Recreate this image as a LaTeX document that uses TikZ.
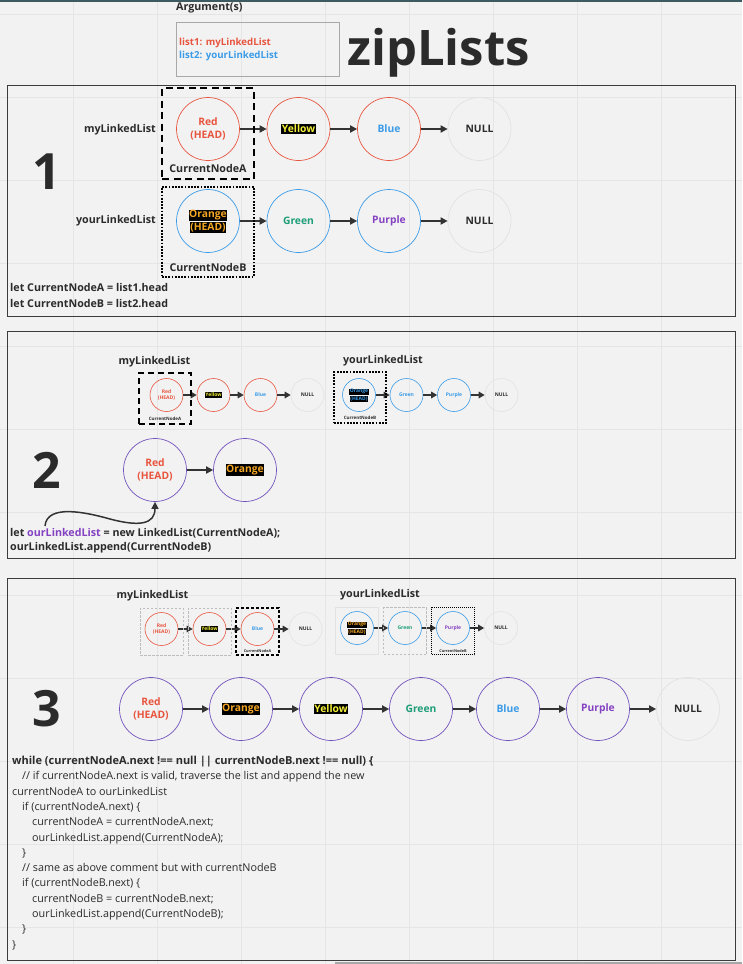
\documentclass[tikz,border=0pt]{standalone}
\usepackage{fontspec}
\setmainfont{Open Sans}
\usetikzlibrary{arrows.meta,positioning}

\definecolor{bgc}{HTML}{F2F2F2}
\definecolor{gridc}{HTML}{E5E5E5}
\definecolor{framec}{HTML}{3C3C3C}
\definecolor{textc}{HTML}{2B2B2B}
\definecolor{arrowc}{HTML}{333333}
\definecolor{boxc}{HTML}{A8A8A8}
\definecolor{nullc}{HTML}{E2E2E2}
\definecolor{lightc}{HTML}{BDBDBD}
\definecolor{redc}{HTML}{E8553F}
\definecolor{bluec}{HTML}{3A9BE8}
\definecolor{greenc}{HTML}{1E9E78}
\definecolor{purplec}{HTML}{8442C2}
\definecolor{violetc}{HTML}{7252BC}
\definecolor{orangec}{HTML}{F5A623}
\definecolor{yellowc}{HTML}{F4F03A}
\definecolor{topc}{HTML}{3D5A60}

\newcommand{\hlbox}[2]{{\setlength{\fboxsep}{0.7pt}\colorbox{black}{\textcolor{#1}{#2}}}}

\begin{document}
\begin{tikzpicture}[x=1pt,y=-1pt,
	bignode/.style={circle,draw,line width=0.7pt,minimum size=63pt,inner sep=0pt,align=center,font=\bfseries\fontsize{10.3}{12.5}\selectfont},
	smallnode/.style={circle,draw,line width=0.6pt,minimum size=33pt,inner sep=0pt,align=center,font=\bfseries\fontsize{5}{6}\selectfont},
	nullnode/.style={draw=nullc,text=textc},
	link/.style={-{Triangle[length=7pt,width=7pt]},line width=1.7pt,draw=arrowc},
	smalllink/.style={-{Triangle[length=6pt,width=6.5pt]},line width=1.7pt,draw=arrowc},
	frame/.style={draw=framec,line width=1pt},
	lbl/.style={font=\bfseries\fontsize{10.7}{12}\selectfont,text=textc,inner sep=0pt},
	tiny/.style={font=\bfseries\fontsize{4.5}{5}\selectfont,text=textc,inner sep=0pt},
	bignum/.style={font=\bfseries\fontsize{50}{50}\selectfont,text=textc,inner sep=0pt},
	curdash/.style={draw=black,line width=2.2pt,dash pattern=on 7pt off 4.5pt},
	curdot/.style={draw=black,line width=2pt,dash pattern=on 1.8pt off 1.4pt},
	ghost/.style={draw=lightc,line width=0.6pt,dash pattern=on 2.5pt off 1.5pt},
	pastbox/.style={draw=nullc,line width=0.8pt},
	thindash/.style={draw=black,line width=1.1pt,dash pattern=on 3pt off 2pt},
	thindot/.style={draw=black,line width=1pt,dash pattern=on 1pt off 1pt}]

\fill[bgc] (0,0) rectangle (742,964);
\useasboundingbox (0,0) rectangle (742,964);
\foreach \x in {73,157,...,661} \draw[gridc,line width=0.8pt] (\x,0) -- (\x,964);
\foreach \y in {14,97,...,927} \draw[gridc,line width=0.8pt] (0,\y) -- (742,\y);
\draw[topc,line width=1.5pt] (0,0.75) -- (742,0.75);
\draw[boxc,line width=2pt] (335,963) -- (742,963);

% header
\node[lbl,anchor=west] (arg) at (176,8) {Argument(s)};
\node[draw=boxc,line width=0.8pt,minimum width=163pt,minimum height=54pt,anchor=north west] (argbox) at (176,22) {};
\node[lbl,font=\bfseries\fontsize{9.7}{11}\selectfont,text=redc,anchor=west] (list1) at (179,43) {list1: myLinkedList};
\node[lbl,font=\bfseries\fontsize{9.7}{11}\selectfont,text=bluec,anchor=west] (list2) at (179,56) {list2: yourLinkedList};
\node[bignum,font=\bfseries\fontsize{49}{49}\selectfont,anchor=base west] (title) at (347,65) {zipLists};

% step 1
\draw[frame] (7,85) rectangle (735,316);
\node[bignum] (one) at (47,172) {1};
\node[lbl,anchor=east] (myA) at (156,130) {myLinkedList};
\node[lbl,anchor=east] (yourA) at (156,221) {yourLinkedList};
\foreach \t/\col [count=\n] in {{Red\\(HEAD)}/redc,{\hlbox{yellowc}{Yellow}}/black,Blue/bluec}
	\node[bignode,draw=redc,text=\col] (A\n) at (117.5+90.5*\n,129) {\t};
\node[bignode,nullnode] (A4) at (479.5,129) {NULL};
\foreach \t/\col [count=\n] in {{\hlbox{orangec}{Orange}\\\hlbox{orangec}{(HEAD)}}/black,Green/greenc,Purple/purplec}
	\node[bignode,draw=bluec,text=\col] (B\n) at (117.5+90.5*\n,221) {\t};
\node[bignode,nullnode] (B4) at (479.5,221) {NULL};
\foreach \i [count=\j from 2] in {1,2,3} {
	\draw[link] (A\i) -- (A\j);
	\draw[link] (B\i) -- (B\j);
}
\node[curdash,minimum width=92pt,minimum height=91pt] (curA) at (208,133.5) {};
\node[lbl] (nameA) at (208,168) {CurrentNodeA};
\node[curdot,minimum width=92pt,minimum height=90pt] (curB) at (208,232) {};
\node[lbl] (nameB) at (208,267) {CurrentNodeB};
\node[lbl,anchor=west] (letA) at (10,288) {let CurrentNodeA = list1.head};
\node[lbl,anchor=west] (letB) at (10,304) {let CurrentNodeB = list2.head};

% step 2
\draw[frame] (7,331) rectangle (735,558);
\node[bignum] (two) at (47,470) {2};
\node[lbl] (myB) at (154.5,362) {myLinkedList};
\node[lbl] (yourB) at (383,361) {yourLinkedList};
\foreach \t/\col [count=\n] in {{Red\\(HEAD)}/redc,{\hlbox{yellowc}{Yellow}}/black,Blue/bluec}
	\node[smallnode,draw=redc,text=\col] (C\n) at (119.5+47*\n,395) {\t};
\node[smallnode,nullnode] (C4) at (307.5,395) {NULL};
\foreach \t [count=\n] in {{\hlbox{bluec}{Orange}\\\hlbox{bluec}{(HEAD)}},Green,Purple}
	\node[smallnode,draw=bluec,text=bluec] (D\n) at (311.5+47.5*\n,395) {\t};
\node[smallnode,nullnode] (D4) at (501.5,395) {NULL};
\foreach \i [count=\j from 2] in {1,2,3} {
	\draw[smalllink] (C\i) -- (C\j);
	\draw[smalllink] (D\i) -- (D\j);
}
\node[curdash,line width=2pt,dash pattern=on 6pt off 4pt,minimum width=52pt,minimum height=51pt] (curC) at (165,398.5) {};
\node[tiny] (nameC) at (165,419) {CurrentNodeA};
\node[curdot,minimum width=52pt,minimum height=51pt] (curD) at (360,397.5) {};
\node[tiny] (nameD) at (360,418) {CurrentNodeB};
\node[bignode,draw=violetc,text=redc] (E1) at (155,470) {Red\\(HEAD)};
\node[bignode,draw=violetc] (E2) at (245,470) {\hlbox{orangec}{Orange}};
\draw[link] (E1) -- (E2);
\node[lbl,anchor=west] (letC) at (10,533) {let \textcolor{purplec}{ourLinkedList} = new LinkedList(CurrentNodeA);};
\node[lbl,anchor=west] (appC) at (10,548) {ourLinkedList.append(CurrentNodeB)};
\coordinate (from) at (45,526);
\draw[link,line width=1.5pt] (from) .. controls (47,504) and (85,512) .. (110,519) .. controls (140,527) and (155,524) .. (E1.south);

% step 3
\draw[frame] (7,578) rectangle (735,960);
\node[bignum] (three) at (47,709) {3};
\node[lbl] (myC) at (152.5,596) {myLinkedList};
\node[lbl] (yourC) at (380,595) {yourLinkedList};
\foreach \t/\col [count=\n] in {{Red\\(HEAD)}/redc,{\hlbox{yellowc}{Yellow}}/black,Blue/bluec}
	\node[smallnode,draw=redc,text=\col] (F\n) at (113.5+48*\n,629) {\t};
\node[smallnode,nullnode] (F4) at (305.5,629) {NULL};
\foreach \t/\col [count=\n] in {{\hlbox{orangec}{Orange}\\\hlbox{orangec}{(HEAD)}}/black,Green/greenc,Purple/purplec}
	\node[smallnode,draw=bluec,text=\col] (G\n) at (309+48*\n,628) {\t};
\node[smallnode,nullnode] (G4) at (501,628) {NULL};
\foreach \i [count=\j from 2] in {1,2,3} {
	\draw[smalllink] (F\i) -- (F\j);
	\draw[smalllink] (G\i) -- (G\j);
}
\foreach \n/\st in {1/ghost,2/ghost,3/thindash}
	\node[\st,minimum width=43pt,minimum height=47pt,yshift=-2.5pt] (FB\n) at (F\n) {};
\foreach \n/\st in {1/pastbox,2/ghost,3/thindot}
	\node[\st,minimum width=43pt,minimum height=47pt,yshift=-3pt] (GB\n) at (G\n) {};
\node[tiny,font=\bfseries\fontsize{3.8}{4}\selectfont] (nameF) at (257.5,651) {CurrentNodeA};
\node[tiny,font=\bfseries\fontsize{3.8}{4}\selectfont] (nameG) at (453,651) {CurrentNodeB};
\foreach \x/\t/\col [count=\n] in {151/{Red\\(HEAD)}/redc,241/{\hlbox{orangec}{Orange}}/black,331/{\hlbox{yellowc}{Yellow}}/black,421/Green/greenc,508/Blue/bluec,598/Purple/purplec}
	\node[bignode,draw=violetc,text=\col] (H\n) at (\x,709) {\t};
\node[bignode,nullnode] (H7) at (688,709) {NULL};
\foreach \i [count=\j from 2] in {1,...,6}
	\draw[link] (H\i) -- (H\j);
\node[anchor=north west,align=left,inner sep=0pt,text=textc,font=\fontsize{10.8}{15.3}\selectfont] (code) at (12,756) {%
{\bfseries\fontsize{11}{15.3}\selectfont while (currentNodeA.next !== null || currentNodeB.next !== null) \{}\\
\hspace*{10pt}// if currentNodeA.next is valid, traverse the list and append the new\\
currentNodeA to ourLinkedList\\
\hspace*{10pt}if (currentNodeA.next) \{\\
\hspace*{20pt}currentNodeA = currentNodeA.next;\\
\hspace*{20pt}ourLinkedList.append(CurrentNodeA);\\
\hspace*{10pt}\}\\
\hspace*{10pt}// same as above comment but with currentNodeB\\
\hspace*{10pt}if (currentNodeB.next) \{\\
\hspace*{20pt}currentNodeB = currentNodeB.next;\\
\hspace*{20pt}ourLinkedList.append(CurrentNodeB);\\
\hspace*{10pt}\}\\
\}};
\end{tikzpicture}
\end{document}
